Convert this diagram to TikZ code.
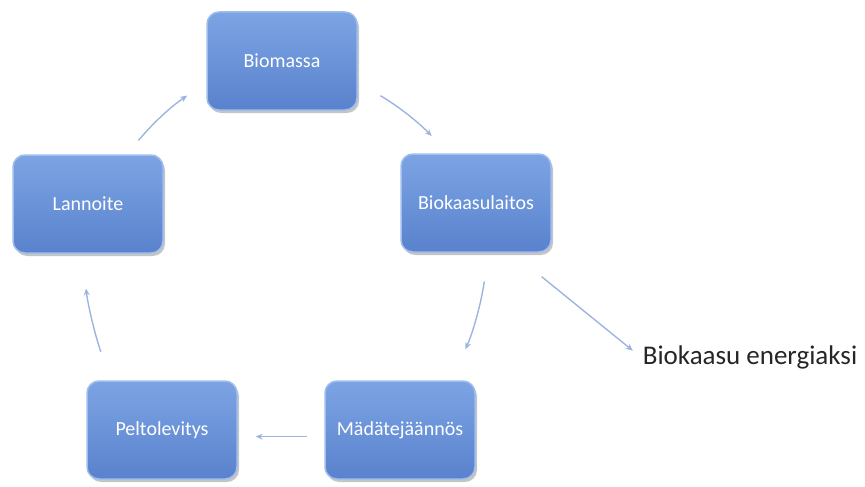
\documentclass[tikz,border=0pt]{standalone}
\usepackage{fontspec}
\setmainfont{Carlito}
\usetikzlibrary{arrows.meta,shadows}
\definecolor{boxtop}{RGB}{124,164,228}
\definecolor{boxbot}{RGB}{90,130,205}
\definecolor{boxedge}{RGB}{160,190,236}
\definecolor{arrcol}{RGB}{158,180,224}
\tikzset{
  box/.style={rectangle, rounded corners=12pt, minimum width=150pt, minimum height=98pt,
    top color=boxtop, bottom color=boxbot, draw=boxedge, line width=1.5pt,
    drop shadow={shadow xshift=2pt, shadow yshift=-3pt, fill=black!45, opacity=.5},
    text=white, font=\fontsize{20}{24}\selectfont},
  arr/.style={draw=arrcol, line width=1.4pt, -{Stealth[length=7pt,width=6pt]}},
}
\begin{document}
\begin{tikzpicture}[x=1pt,y=-1pt]
\useasboundingbox (0,0) rectangle (865,487);
\node[box] (bio) at (282,61) {Biomassa};
\node[box] (bk)  at (476,203) {Biokaasulaitos};
\node[box] (lan) at (88,204) {Lannoite};
\node[box] (pel) at (162,430) {Peltolevitys};
\node[box] (mad) at (400,430) {Mädätejäännös};
\node[font=\fontsize{27}{32}\selectfont, text=black!85, inner sep=2pt] (en) at (750,357) {Biokaasu energiaksi};

\draw[arr, shorten <=18pt, shorten >=23pt] (lan.52) to[bend left=8] (bio.196);
\draw[arr, shorten <=26pt, shorten >=24pt] (bio.-16) to[bend left=8] (bk.119);
\draw[arr, shorten <=29pt, shorten >=34pt] (bk.-76) to[bend left=8] (mad.44);
\draw[arr, shorten <=38pt, shorten >=10pt] (bk.-54) -- (en.west);
\draw[arr, shorten <=17pt, shorten >=18pt] (mad.185) -- (pel.-5);
\draw[arr, shorten <=30pt, shorten >=35pt] (pel.136) to[bend left=6] (lan.-97);
\end{tikzpicture}
\end{document}
